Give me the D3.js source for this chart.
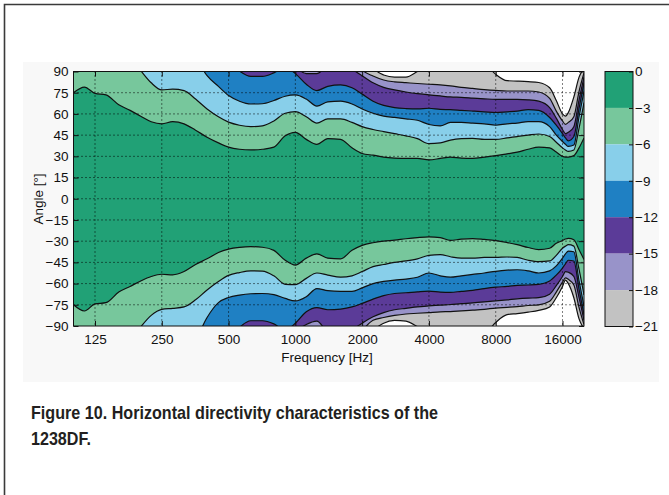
<!DOCTYPE html>
<html>
<head>
<meta charset="utf-8">
<script src="https://cdn.jsdelivr.net/npm/d3@7"></script>
<style>
body { margin: 0; background: #fff; }
text { font-family: "Liberation Sans", Arial, sans-serif; }
</style>
</head>
<body>
<svg id="chart" width="669" height="495"></svg>
<script>
// frequency points (Hz) where the contour boundaries were read
const freqs = [100,112,125,140,160,180,200,224,250,280,315,355,400,450,500,560,630,710,800,900,1000,
  1120,1250,1400,1600,1800,2000,2240,2500,2800,3150,3550,4000,4500,5000,5600,6300,7100,8000,9000,10000,
  11200,12500,14000,15000,16000,16500,17000,18000,19000,20000];

// upper half: angle (deg) where level is reached, values > 90 mean off the plot
const up3 = [75,79,74.5,73.5,66.5,62.5,58.5,54.5,53,54.5,53,48.5,43.5,39.5,36.5,35,34.5,35,36.5,44.5,47,
  42,38.5,42.5,42,36,32,30.8,29.5,28.8,28.5,28.5,27.5,28.5,29.5,28.8,28.6,29.5,30.5,31.8,33,
  35,36.5,36,33,30,29.5,29.5,30.5,36,43];
const up6 = [110,110,110,110,110,100,91,82,77,77.5,76.5,70.5,63.5,58,54.2,52,51,51.5,55,60.5,61.6,
  58,53.5,56.5,56.5,54,51,49,47.5,46,44.5,42.5,39,39.5,41.5,42.5,42.7,42,42,43,44,
  45,45.8,44,40,36,34.5,33.5,34.5,50,68];
const up9 = [110,110,110,110,110,110,110,110,110,110,110,100,87,79.5,73,69,67,67.2,69.5,72.5,73.4,
  70.5,65.5,68.5,69,67,63.5,60.5,58.5,57.5,56.5,55.5,52.5,51.5,54,54,53.5,53,52,53,53.5,
  54.5,54.5,51,45,40.5,38.5,37,38,58,76];
const up12 = [110,110,110,110,110,110,110,110,110,110,110,110,110,110,97,90.3,86.5,86.5,89,93,88.5,
  81,76.5,79.5,80.5,78.5,74,69,66,64.5,63.8,63.5,64,63.2,63,62.5,62,61.5,61,61.5,62,
  63,62.5,57.5,52,46,43,41,44,64,82];
const up15 = [110,110,110,110,110,110,110,110,110,110,110,110,110,110,110,110,110,110,110,110,95,
  88.5,88.5,95,100,92,87,82,78.8,77,75.5,74.3,73.5,72.7,72,71.7,71.2,70.7,70.3,70.3,70.3,
  70,69,64.5,57,49,46,47,51,70,86];
const up18 = [110,110,110,110,110,110,110,110,110,110,110,110,110,110,110,110,110,110,110,110,110,
  110,110,110,110,100,91,86.8,84,82.7,82.1,81.5,81,80.5,79.8,78.8,78,77.2,76.6,76.2,76.2,
  76.2,75.5,71,62,55,52.6,54,58,76,89];
const up21 = [110,110,110,110,110,110,110,110,110,110,110,110,110,110,110,110,110,110,110,110,110,
  110,110,110,110,110,110,93,87.5,86,86,90,95,98,98,98,98,96,88,83.5,83.2,
  82.8,82.2,78.5,69.5,60,58.5,61,72,86,92];

// lower half
const lo3 = [-75,-79.4,-74.4,-73.5,-66,-62,-58.3,-55,-53.4,-53.8,-51.5,-46.5,-42.5,-38,-35.6,-34.4,-33.9,-34.3,-36.5,-43.5,-46.9,
  -42,-39,-42,-42.5,-36.5,-33,-31.1,-30,-29.3,-28.3,-27.5,-27,-27.5,-29.5,-28.5,-28.2,-28.8,-29.6,-31,-32.5,
  -34.5,-36,-35,-31.5,-29.5,-28.5,-28,-29,-36,-43];
const lo6 = [-110,-110,-110,-110,-110,-100,-91,-82.5,-78.2,-77.5,-76.5,-71.5,-64.5,-58.5,-54.2,-52.2,-51,-51.2,-54.5,-60.5,-60.8,
  -56.3,-52.5,-54,-55.5,-54.5,-51.5,-48,-46.5,-45,-44,-42.5,-40,-39.5,-41,-42,-42,-41.5,-41.5,-41.2,-41.5,
  -43.5,-44.5,-44,-40,-35,-33.5,-32.5,-33.5,-50,-68];
const lo9 = [-110,-110,-110,-110,-110,-110,-110,-110,-110,-110,-110,-100,-84,-73.5,-69.8,-68.1,-67.2,-67,-67.8,-70.5,-72.3,
  -69.3,-63.5,-65,-65.5,-65.5,-63,-60,-58.5,-57.5,-56.8,-55.5,-52.5,-54.5,-55.5,-54.5,-53.5,-52.5,-51.3,-50.5,-50.2,
  -51,-52.5,-51,-47.5,-42,-39,-37,-37.5,-58,-76];
const lo12 = [-110,-110,-110,-110,-110,-110,-110,-110,-110,-110,-110,-110,-110,-110,-100,-91,-86.3,-86.3,-88.5,-93,-88,
  -80,-77,-78.5,-78,-76.5,-74,-71,-68.5,-67,-66.5,-65.8,-65.3,-66,-66.2,-65.5,-64.8,-63.5,-62.5,-62,-61.3,
  -61,-60.5,-58.2,-54,-49,-46,-43.5,-44,-64,-82];
const lo15 = [-110,-110,-110,-110,-110,-110,-110,-110,-110,-110,-110,-110,-110,-110,-110,-110,-110,-110,-110,-110,-95,
  -89,-86.5,-95,-100,-93,-88,-83.5,-80.5,-78.5,-77.5,-76.5,-75.8,-75.2,-74.8,-74.2,-73.7,-73,-72.2,-71.5,-70.8,
  -70.3,-70,-67.5,-61.5,-55,-51.5,-52,-55,-70,-86];
const lo18 = [-110,-110,-110,-110,-110,-110,-110,-110,-110,-110,-110,-110,-110,-110,-110,-110,-110,-110,-110,-110,-110,
  -110,-110,-110,-110,-100,-93,-86,-84,-82.5,-81.5,-81,-80.5,-80,-79.8,-79.3,-78.8,-78.2,-77.3,-76.8,-76.3,
  -75.5,-75,-72.5,-66,-59,-56,-57,-61,-77,-89];
const lo21 = [-110,-110,-110,-110,-110,-110,-110,-110,-110,-110,-110,-110,-110,-110,-110,-110,-110,-110,-110,-110,-110,
  -110,-110,-110,-110,-110,-110,-94,-88,-86,-86.5,-90.5,-96,-98,-98,-98,-98,-96,-87.5,-82,-81.2,
  -80.2,-79,-76.5,-70,-62,-57.5,-60,-70,-85,-92];

const levels = [-3, -6, -9, -12, -15, -18, -21];
const cbTicks = [0, -3, -6, -9, -12, -15, -18, -21];
const xTicks = [125, 250, 500, 1000, 2000, 4000, 8000, 16000];
const yTicks = [-90, -75, -60, -45, -30, -15, 0, 15, 30, 45, 60, 75, 90];
const bandColors = ["#21a176", "#77c79c", "#88cfea", "#1f80c3", "#5b3b98", "#9893c9", "#c2c2c2", "#ffffff"];

const upper = [up3, up6, up9, up12, up15, up18, up21];
const lower = [lo3, lo6, lo9, lo12, lo15, lo18, lo21];

const plotL = 73.5, plotR = 584, plotT = 71.5, plotB = 326;

const svg = d3.select("#chart");

// page frame + light backdrop of the pasted figure
svg.append("rect").attr("x", 23).attr("y", 62).attr("width", 636).attr("height", 320).attr("fill", "#f8f8f8");
svg.append("path").attr("d", "M4.5,495 V4.5 H669").attr("fill", "none").attr("stroke", "#3a3a3a").attr("stroke-width", 1.6);

const x = d3.scaleLog().base(2).domain([100, 20000]).range([plotL, plotR]);
const y = d3.scaleLinear().domain([-90, 90]).range([plotB, plotT]);

svg.append("clipPath").attr("id", "plotClip")
  .append("rect").attr("x", plotL).attr("y", plotT).attr("width", plotR - plotL).attr("height", plotB - plotT);

const plot = svg.append("g").attr("clip-path", "url(#plotClip)");

plot.append("rect").attr("x", plotL).attr("y", plotT).attr("width", plotR - plotL).attr("height", plotB - plotT)
  .attr("fill", bandColors[0]);

const upArea = d3.area().x(d => x(d.f)).y0(y(120)).y1(d => y(d.a)).curve(d3.curveMonotoneX);
const loArea = d3.area().x(d => x(d.f)).y0(y(-120)).y1(d => y(d.a)).curve(d3.curveMonotoneX);
const contour = d3.line().x(d => x(d.f)).y(d => y(d.a)).curve(d3.curveMonotoneX);

const upData = upper.map(arr => freqs.map((f, j) => ({f, a: arr[j]})));
const loData = lower.map(arr => freqs.map((f, j) => ({f, a: arr[j]})));

levels.forEach((lev, i) => {
  plot.append("path").datum(upData[i]).attr("fill", bandColors[i + 1]).attr("d", upArea);
  plot.append("path").datum(loData[i]).attr("fill", bandColors[i + 1]).attr("d", loArea);
});

// dotted grid
plot.selectAll("line.gx").data(xTicks).join("line").attr("class", "gx")
  .attr("x1", d => x(d)).attr("x2", d => x(d)).attr("y1", plotT).attr("y2", plotB)
  .attr("stroke", "#000").attr("stroke-width", 1).attr("stroke-dasharray", "1,3");
plot.selectAll("line.gy").data(yTicks.slice(1, -1)).join("line").attr("class", "gy")
  .attr("x1", plotL).attr("x2", plotR).attr("y1", d => y(d)).attr("y2", d => y(d))
  .attr("stroke", "#000").attr("stroke-width", 1).attr("stroke-dasharray", "1,3");

// contour lines
upData.concat(loData).forEach(d => {
  plot.append("path").datum(d).attr("fill", "none").attr("stroke", "#111").attr("stroke-width", 1.2).attr("d", contour);
});

// axes box
svg.append("rect").attr("x", plotL).attr("y", plotT).attr("width", plotR - plotL).attr("height", plotB - plotT)
  .attr("fill", "none").attr("stroke", "#111").attr("stroke-width", 1);

const styleAxis = g => {
  g.select(".domain").remove();
  g.attr("font-family", null).attr("font-size", null);
  g.selectAll(".tick line").attr("stroke", "#111");
  g.selectAll("text").attr("fill", "#111").style("font-size", "13.5px");
};

svg.append("g").attr("transform", `translate(0,${plotB})`)
  .call(d3.axisBottom(x).tickValues(xTicks).tickFormat(d3.format("d")).tickSize(-5).tickPadding(8))
  .call(styleAxis);
svg.append("g").attr("transform", `translate(0,${plotT})`)
  .call(d3.axisTop(x).tickValues(xTicks).tickFormat("").tickSize(-5))
  .call(styleAxis);
svg.append("g").attr("transform", `translate(${plotL},0)`)
  .call(d3.axisLeft(y).tickValues(yTicks).tickSize(-5).tickPadding(5))
  .call(styleAxis);
svg.append("g").attr("transform", `translate(${plotR},0)`)
  .call(d3.axisRight(y).tickValues(yTicks).tickFormat("").tickSize(-5))
  .call(styleAxis);

svg.append("text").attr("x", 327).attr("y", 362).attr("text-anchor", "middle")
  .style("font-size", "13.5px").attr("fill", "#111").text("Frequency [Hz]");
svg.append("text").attr("transform", "translate(42.5,199) rotate(-90)").attr("text-anchor", "middle")
  .style("font-size", "13.5px").attr("fill", "#111").text("Angle [°]");

// colorbar
const cb = d3.scaleLinear().domain([-21, 0]).range([326.5, 71.5]);
const cbL = 605, cbR = 633;
svg.selectAll("rect.cb").data(levels).join("rect").attr("class", "cb")
  .attr("x", cbL).attr("width", cbR - cbL)
  .attr("y", d => cb(d + 3)).attr("height", d => cb(d) - cb(d + 3))
  .attr("fill", (d, i) => bandColors[i]);
svg.append("rect").attr("x", cbL).attr("y", cb(0)).attr("width", cbR - cbL).attr("height", cb(-21) - cb(0))
  .attr("fill", "none").attr("stroke", "#111").attr("stroke-width", 1);
svg.append("g").attr("transform", `translate(${cbR},0)`)
  .call(d3.axisRight(cb).tickValues(cbTicks).tickFormat(d3.format("d")).tickSize(-4).tickPadding(3))
  .call(styleAxis)
  .call(g => g.selectAll("text").attr("x", 2));

// caption
const caption = svg.append("g").attr("fill", "#231f20")
  .style("font-family", "'Liberation Sans Narrow', 'Arial Narrow', 'Liberation Sans', Arial, sans-serif")
  .style("font-size", "19px").style("font-weight", "bold");
caption.append("text").attr("x", 31).attr("y", 419)
  .attr("textLength", 407).attr("lengthAdjust", "spacingAndGlyphs")
  .text("Figure 10. Horizontal directivity characteristics of the");
caption.append("text").attr("x", 31).attr("y", 445)
  .attr("textLength", 60).attr("lengthAdjust", "spacingAndGlyphs")
  .text("1238DF.");
</script>
</body>
</html>
